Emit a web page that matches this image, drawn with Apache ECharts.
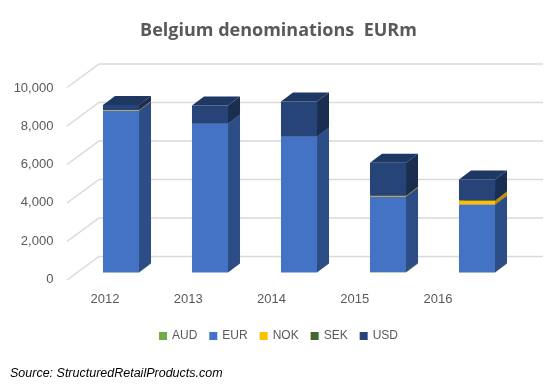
<!DOCTYPE html>
<html>
<head>
<meta charset="utf-8">
<script src="https://cdn.jsdelivr.net/npm/echarts@6/dist/echarts.min.js"></script>
<style>html,body{margin:0;padding:0;background:#fff;}#chart{width:557px;height:385px;}</style>
</head>
<body>
<div id="chart"></div>
<script>
const categories = ['2012', '2013', '2014', '2015', '2016'];
const seriesNames = ['AUD', 'EUR', 'NOK', 'SEK', 'USD'];
const AUD = [10, 0, 0, 30, 10];
const EUR = [8410, 7740, 7065, 3920, 3520];
const NOK = [20, 0, 0, 40, 210];
const SEK = [0, 0, 0, 0, 0];
const USD = [260, 935, 1820, 1715, 1090];
const yTicks = [0, 2000, 4000, 6000, 8000, 10000];

const values = [AUD, EUR, NOK, SEK, USD];
const frontColors = ['#70AD47', '#4472C4', '#FFC000', '#43682B', '#264478'];
const sideColors = ['#4E7A31', '#2C4D86', '#BF9000', '#2E491E', '#1A2E52'];
const topColors = ['#5E9A3A', '#3A63AD', '#E0A800', '#385823', '#1F3763'];

const DX = 12, DY = -9;

const chart = echarts.init(document.getElementById('chart'));

const bases = values.map((arr, s) => arr.map((v, i) => {
  let b = 0;
  for (let k = 0; k < s; k++) b += values[k][i];
  return b;
}));

const barSeries = seriesNames.map((name, s) => ({
  name: name,
  type: 'custom',
  xAxisIndex: 1,
  yAxisIndex: 1,
  z: 10,
  itemStyle: { color: frontColors[s] },
  data: values[s].map((v, i) => [i, v, bases[s][i]]),
  encode: { x: 0, y: 1 },
  renderItem: function (params, api) {
    const i = api.value(0), v = api.value(1), b = api.value(2);
    if (!(v > 0)) return null;
    const pTop = api.coord([i, b + v]);
    const pBot = api.coord([i, b]);
    const bw = api.size([1, 0])[0] * 0.405;
    const x0 = pTop[0] - bw / 2, x1 = pTop[0] + bw / 2;
    const yT = pTop[1], yB = pBot[1];
    return {
      type: 'group',
      children: [
        { type: 'rect', shape: { x: x0, y: yT, width: bw, height: yB - yT }, style: { fill: frontColors[s] } },
        { type: 'polygon', shape: { points: [[x1, yT], [x1 + DX, yT + DY], [x1 + DX, yB + DY], [x1, yB]] }, style: { fill: sideColors[s] } },
        { type: 'polygon', shape: { points: [[x0, yT], [x0 + DX, yT + DY], [x1 + DX, yT + DY], [x1, yT]] }, style: { fill: topColors[s] } }
      ]
    };
  }
}));

const gridSeries = {
  name: 'grid',
  type: 'custom',
  xAxisIndex: 1,
  yAxisIndex: 1,
  z: 1,
  silent: true,
  data: yTicks.map(t => [0, t]),
  encode: { x: 0, y: 1 },
  renderItem: function (params, api) {
    const y = api.coord([0, api.value(1)])[1];
    return {
      type: 'polyline',
      shape: { points: [[67, y + 7.5], [99, y - 16], [543, y - 16]] },
      style: { stroke: '#D9D9D9', lineWidth: 1.5, fill: null }
    };
  }
};

chart.setOption({
  animation: false,
  backgroundColor: '#ffffff',
  title: {
    text: 'Belgium denominations  EURm',
    left: 'center',
    top: 17,
    textStyle: { fontFamily: 'Open Sans', fontWeight: 'bold', fontSize: 18, color: '#595959' }
  },
  legend: {
    data: seriesNames,
    top: 325,
    left: 'center',
    icon: 'rect',
    itemWidth: 8,
    itemHeight: 8,
    itemGap: 12,
    textStyle: { color: '#595959', fontSize: 12, fontFamily: 'Liberation Sans' }
  },
  grid: [
    { left: 63.4, right: 77.3, top: 88, bottom: 105.5 },
    { left: 76.5, right: 35.5, top: 80, bottom: 112.5 }
  ],
  xAxis: [
    {
      type: 'category', gridIndex: 0, data: categories,
      axisLine: { show: false }, axisTick: { show: false },
      axisLabel: { color: '#595959', fontSize: 13, fontFamily: 'Liberation Sans', margin: 13 }
    },
    {
      type: 'category', gridIndex: 1, data: categories, show: false
    }
  ],
  yAxis: [
    {
      type: 'value', gridIndex: 0, min: 0, max: 10000, interval: 2000,
      axisLine: { show: false }, axisTick: { show: false }, splitLine: { show: false },
      axisLabel: {
        color: '#595959', fontSize: 13, fontFamily: 'Liberation Sans', margin: 10,
        formatter: v => v.toLocaleString('en-US')
      }
    },
    {
      type: 'value', gridIndex: 1, min: 0, max: 10000, interval: 2000, show: false
    }
  ],
  graphic: [
    {
      type: 'text', left: 10, top: 367,
      style: { text: 'Source: StructuredRetailProducts.com', fill: '#000000', font: 'italic 12.5px "Liberation Sans"' }
    }
  ],
  series: [gridSeries].concat(barSeries)
});
</script>
</body>
</html>
